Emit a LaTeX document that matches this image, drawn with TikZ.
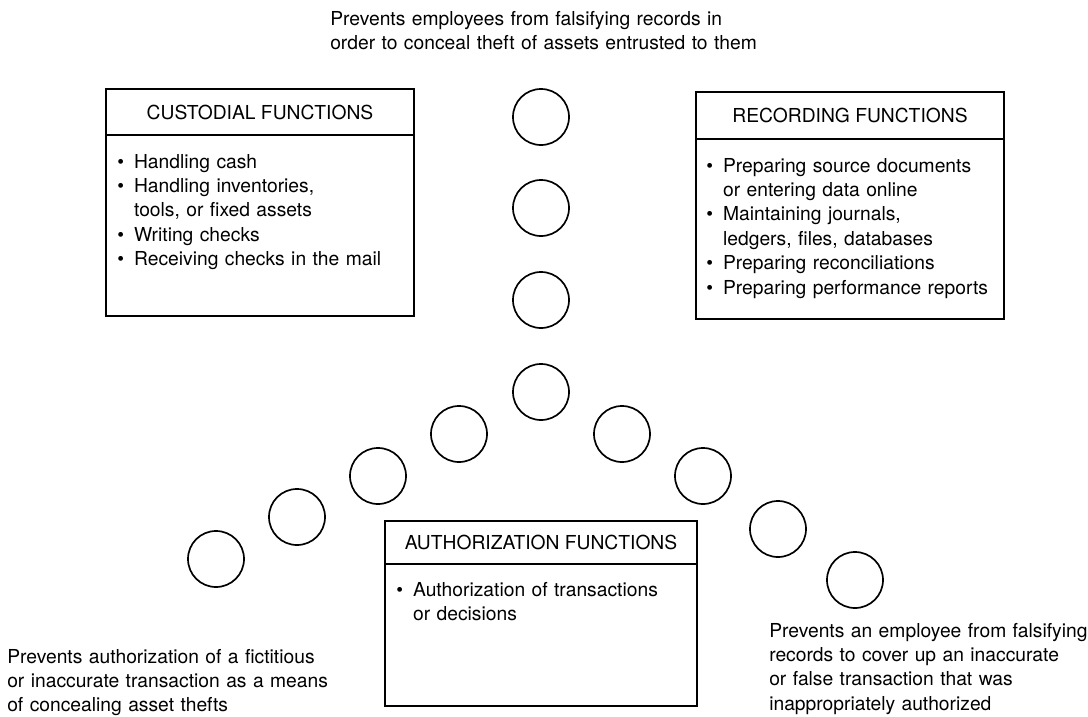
\documentclass[tikz,border=0pt]{standalone}
\usepackage{fontspec}
\setmainfont{TeX Gyre Heros}

\newcommand{\itm}{\makebox[0.42cm][l]{\textbullet}}
\newcommand{\ind}{\hspace*{0.42cm}}

\tikzset{
  fn_box/.style={draw, line width=1.3pt, inner sep=0pt},
  ring/.style={draw, circle, line width=1.2pt, minimum size=1.4cm, inner sep=0pt},
  txt/.style={anchor=base west, inner sep=0pt, align=left, text width=#1}
}

\begin{document}
\begin{tikzpicture}[x=0.025cm, y=-0.025cm, font=\fontsize{13.7}{17.4}\selectfont]
\useasboundingbox (0,0) rectangle (1088,717);

% the three function boxes, title strip on top
\node[fn_box, minimum width=7.7cm, minimum height=5.675cm] (custodial_box) at (260, 202.5) {};
\node[fn_box, minimum width=7.7cm, minimum height=1.15cm, anchor=north] (custodial_title) at (custodial_box.north) {CUSTODIAL FUNCTIONS};
\node[txt=9cm] (custodial_list) at (117, 168) {\itm Handling cash\\ \itm Handling inventories,\\ \ind tools, or fixed assets\\ \itm Writing checks\\ \itm Receiving checks in the mail};

\node[fn_box, minimum width=7.7cm, minimum height=5.675cm] (recording_box) at (850, 205.5) {};
\node[fn_box, minimum width=7.7cm, minimum height=1.175cm, anchor=north] (recording_title) at (recording_box.north) {RECORDING FUNCTIONS};
\node[txt=9cm] (recording_list) at (706, 172) {\itm Preparing source documents\\ \ind or entering data online\\ \itm Maintaining journals,\\ \ind ledgers, files, databases\\ \itm Preparing reconciliations\\ \itm Preparing performance reports};

\node[fn_box, minimum width=7.8cm, minimum height=4.625cm] (authorization_box) at (541, 613.5) {};
\node[fn_box, minimum width=7.8cm, minimum height=1.075cm, anchor=north] (authorization_title) at (authorization_box.north) {AUTHORIZATION FUNCTIONS};
\node[txt=9cm] (authorization_list) at (396, 596) {\itm Authorization of transactions\\ \ind or decisions};

% rings between the boxes
\node[ring] (ring_top1) at (541, 117) {};
\node[ring] (ring_top2) at (541, 208) {};
\node[ring] (ring_top3) at (541, 300) {};
\node[ring] (ring_top4) at (541, 392) {};
\node[ring] (ring_left1) at (459, 434) {};
\node[ring] (ring_left2) at (378, 476) {};
\node[ring] (ring_left3) at (297, 517) {};
\node[ring] (ring_left4) at (216, 559) {};
\node[ring] (ring_right1) at (622, 434) {};
\node[ring] (ring_right2) at (703, 476) {};
\node[ring] (ring_right3) at (778, 529) {};
\node[ring] (ring_right4) at (855, 580) {};

% what each separation prevents
\node[txt=12cm] (top_note) at (330, 25) {Prevents employees from falsifying records in\\ order to conceal theft of assets entrusted to them};
\node[txt=10cm] (left_note) at (7, 663) {Prevents authorization of a fictitious\\ or inaccurate transaction as a means\\ of concealing asset thefts};
\node[txt=9cm] (right_note) at (769, 637) {Prevents an employee from falsifying\\ records to cover up an inaccurate\\ or false transaction that was\\ inappropriately authorized};
\end{tikzpicture}
\end{document}
